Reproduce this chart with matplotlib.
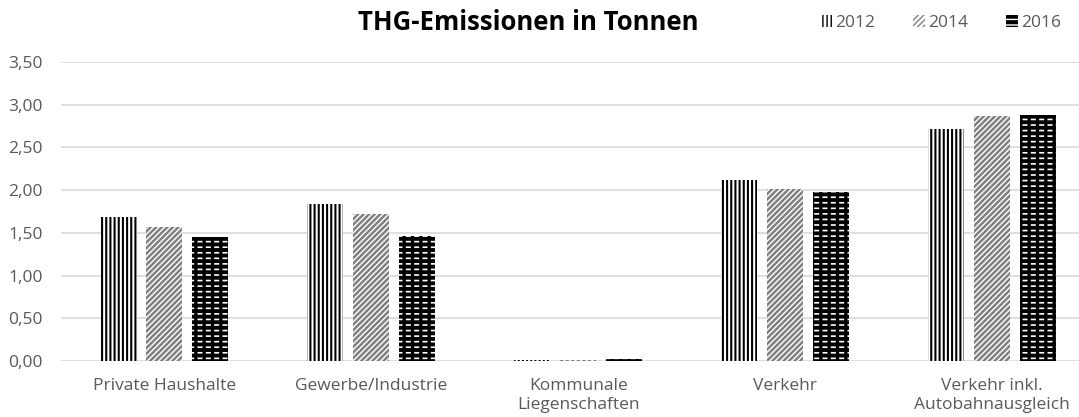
import matplotlib
matplotlib.use("Agg")
import matplotlib.pyplot as plt
import numpy as np

categories = ["Private Haushalte", "Gewerbe/Industrie", "Kommunale\nLiegenschaften",
              "Verkehr", "Verkehr inkl.\nAutobahnausgleich"]
years = ["2012", "2014", "2016"]
v2012 = [1.69, 1.84, 0.01, 2.12, 2.71]
v2014 = [1.57, 1.72, 0.015, 2.01, 2.87]
v2016 = [1.45, 1.46, 0.02, 1.98, 2.88]
yticks = [0, 0.5, 1.0, 1.5, 2.0, 2.5, 3.0, 3.5]

plt.rcParams['font.family'] = ['Open Sans', 'DejaVu Sans']

fig = plt.figure(figsize=(10.79, 4.17), dpi=100)
ax = fig.add_axes([61/1079, 56/417, 1018/1079, 299/417])

x = np.arange(len(categories))
w = 0.174
off = 0.222

def hbar(xs, vals, lw, **kw):
    with plt.rc_context({'hatch.linewidth': lw}):
        bars = ax.bar(xs, vals, w, **kw)
        for b in bars:
            if hasattr(b, 'set_hatch_linewidth'):
                b.set_hatch_linewidth(lw)
    return bars

b1 = hbar(x - off, v2012, 1.5, facecolor='white', edgecolor='black', hatch='||||', linewidth=0, label=years[0])
b2 = hbar(x, v2014, 1.8, facecolor='white', edgecolor='#808080', hatch='//////', linewidth=0, label=years[1])
b3 = hbar(x + off, v2016, 1.2, facecolor='black', edgecolor='white', hatch='---', linewidth=0, label=years[2])
b3b = hbar(x + off, v2016, 2.4, facecolor='none', edgecolor='black', hatch='||', linewidth=0)

ax.set_xlim(-0.5, 4.42)
ax.set_ylim(0, 3.5)
ax.set_yticks(yticks)
ax.set_yticklabels([f"{t:.2f}".replace('.', ',') for t in yticks])
ax.set_xticks(x)
ax.set_xticklabels(categories, linespacing=1.3)
ax.tick_params(axis='both', length=0, labelsize=12.5, labelcolor='#595959')
ax.tick_params(axis='y', pad=13)
ax.tick_params(axis='x', pad=12)
ax.grid(axis='y', color='#d9d9d9', linewidth=1.2)
ax.set_axisbelow(True)
for s in ax.spines.values():
    s.set_visible(False)

fig.text(528/1079, 1 - 22/417, "THG-Emissionen in Tonnen", ha='center', va='center',
         fontsize=18.5, fontweight='bold', color='black')

leg = ax.legend(handles=[b1, b2, b3], labels=years, ncol=3, frameon=False,
                loc='center right', bbox_to_anchor=(1068/1079, 1 - 23/417),
                bbox_transform=fig.transFigure, fontsize=12.5, handlelength=0.65,
                handleheight=0.65, handletextpad=0.2, columnspacing=2.2, borderaxespad=0)
for t in leg.get_texts():
    t.set_color('#595959')

fig.savefig("out.png", dpi=100)
